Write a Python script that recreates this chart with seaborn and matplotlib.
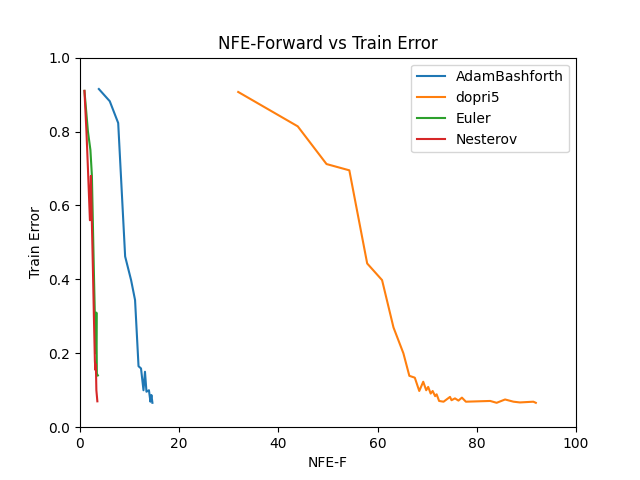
import seaborn as sns
import matplotlib.pyplot as plt
import pandas as pd

adam_x = [3.8, 6.0, 7.7, 9.1, 10.3, 11.1, 11.8, 12.3, 12.8, 13.1, 13.4, 13.9, 14.2, 14.4, 14.6]
adam_y = [0.915, 0.882, 0.823, 0.462, 0.398, 0.344, 0.165, 0.159, 0.100, 0.150, 0.096, 0.100, 0.069, 0.087, 0.066]

dopri_x = [31.9, 43.9, 49.7, 54.3, 57.9, 60.9, 63.2, 65.2, 66.4, 67.5, 68.4, 69.2, 69.8, 70.2,
           70.7, 71.1, 71.6, 71.9, 72.4, 73.3, 74.6, 74.9, 75.6, 76.3, 77.0, 77.8, 82.7, 84.0,
           85.7, 87.4, 88.7, 91.4, 91.9]
dopri_y = [0.907, 0.814, 0.712, 0.695, 0.443, 0.398, 0.270, 0.200, 0.139, 0.134, 0.098, 0.123,
           0.100, 0.109, 0.091, 0.098, 0.084, 0.089, 0.071, 0.069, 0.082, 0.073, 0.078, 0.072,
           0.080, 0.069, 0.071, 0.066, 0.075, 0.069, 0.067, 0.069, 0.066]

euler_x = [0.9, 1.6, 2.1, 2.4, 2.6, 2.8, 3.0, 3.2, 3.3, 3.4, 3.6]
euler_y = [0.91, 0.80, 0.75, 0.68, 0.55, 0.42, 0.30, 0.20, 0.31, 0.145, 0.14]

nest_x = [0.9, 1.3, 1.6, 2.0, 2.2, 2.4, 2.6, 2.8, 3.0, 3.1, 3.2, 3.3, 3.5]
nest_y = [0.91, 0.80, 0.70, 0.56, 0.68, 0.55, 0.43, 0.30, 0.18, 0.155, 0.17, 0.10, 0.07]

frames = []
for name, xs, ys in [("AdamBashforth", adam_x, adam_y), ("dopri5", dopri_x, dopri_y),
                     ("Euler", euler_x, euler_y), ("Nesterov", nest_x, nest_y)]:
    frames.append(pd.DataFrame({"nfe": xs, "err": ys, "method": name}))
df = pd.concat(frames, ignore_index=True)

fig, ax = plt.subplots(figsize=(6.4, 4.8), dpi=100)
sns.lineplot(data=df, x="nfe", y="err", hue="method", units="method", estimator=None,
             sort=False, palette="tab10", ax=ax)
ax.set_xlim(0, 100)
ax.set_ylim(0, 1.0)
ax.set_title("NFE-Forward vs Train Error")
ax.set_xlabel("NFE-F")
ax.set_ylabel("Train Error")
handles, labels = ax.get_legend_handles_labels()
ax.legend(handles, labels, loc="upper right")
plt.savefig("out.png")
